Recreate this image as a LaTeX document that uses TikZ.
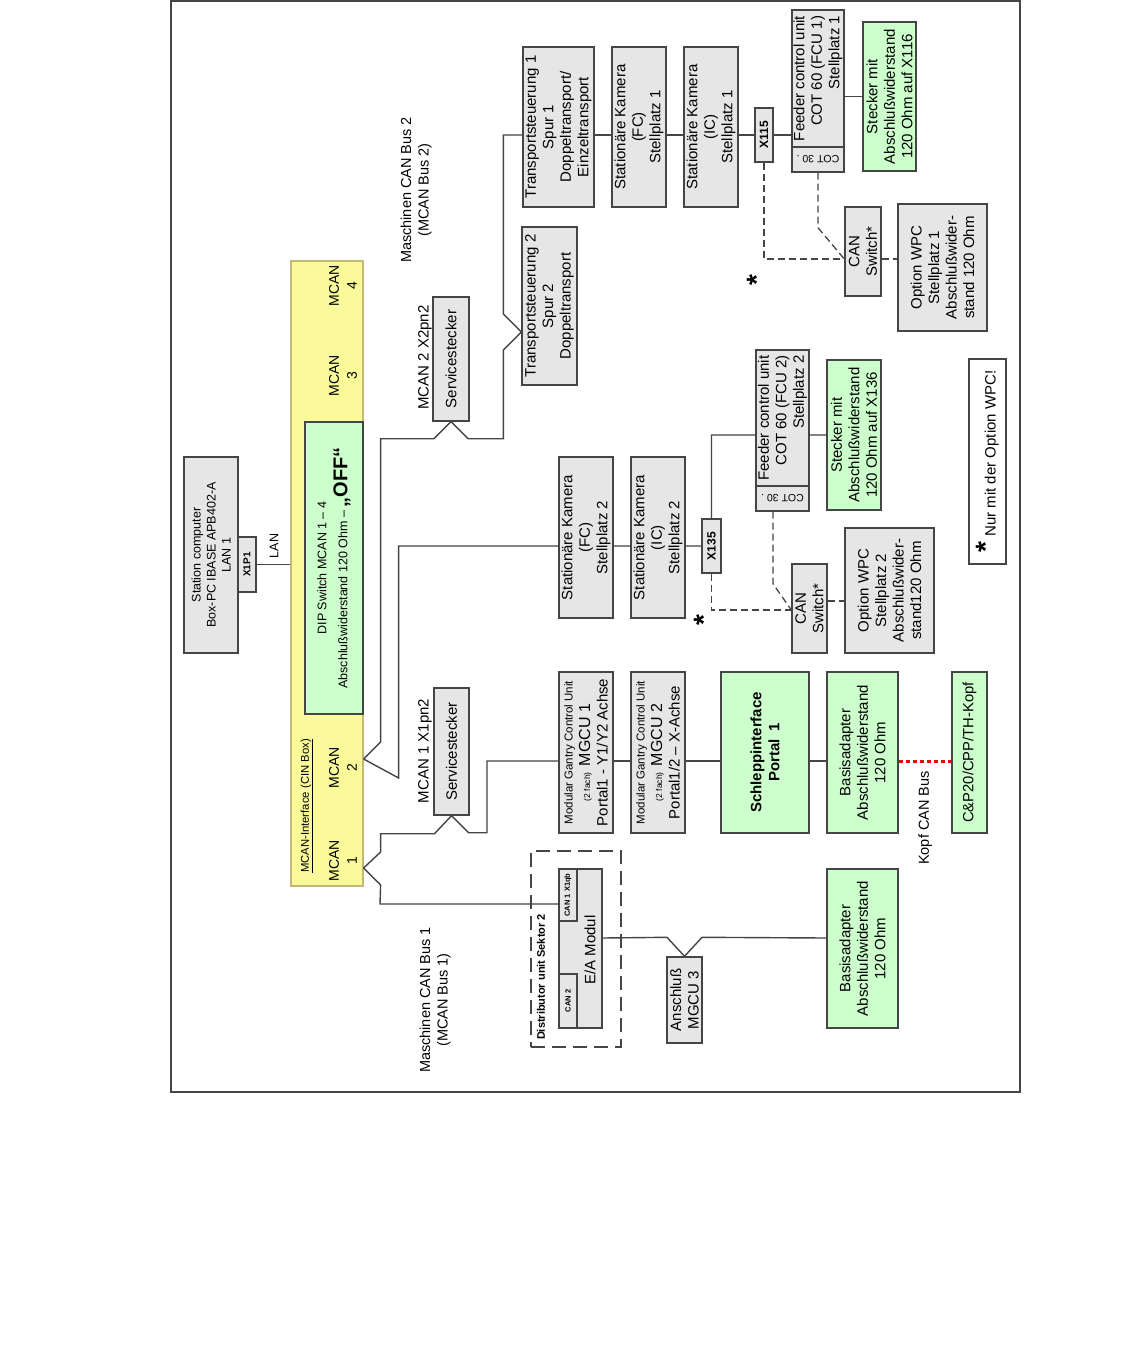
\documentclass[tikz,border=0pt]{standalone}
\usepackage{fontspec}
\setmainfont{Liberation Sans}
\usepackage{graphicx}
\usepackage{tikz}
\usetikzlibrary{calc}
\definecolor{boxgray}{HTML}{E6E6E6}
\definecolor{boxgreen}{HTML}{CCFFCC}
\definecolor{cinyellow}{HTML}{FAFA9B}
\definecolor{cinframe}{HTML}{C4B878}
\definecolor{linegray}{HTML}{454545}
\definecolor{kopfred}{HTML}{F00000}
\newcommand{\fs}[2]{\fontsize{#1}{#2}\selectfont}

\begin{document}
\begin{tikzpicture}[x=1pt,y=-1pt,
    blk/.style={draw=linegray,line width=1.4pt,fill=boxgray,rotate=90,
                align=center,inner sep=0pt,font=\fs{15}{17.5}},
    grn/.style={blk,fill=boxgreen},
    xtag/.style={blk,font=\fs{12}{12}\bfseries},
    cot/.style={draw=linegray,line width=1.4pt,fill=boxgray,inner sep=0pt,
                minimum width=52,minimum height=25,font=\fs{10.5}{10.5}},
    lbl/.style={rotate=90,align=center,inner sep=0pt,font=\fs{15}{17.5}},
    mcan/.style={lbl,font=\fs{14}{18}},
    ast/.style={rotate=90,inner sep=0pt,font=\fs{28}{28}\bfseries},
    bus/.style={linegray,line width=1.4pt},
    opt/.style={linegray,line width=1.3pt,dash pattern=on 7pt off 4pt},
    kopfbus/.style={kopfred,line width=3pt,dash pattern=on 4pt off 3pt}]
  \path[fill=white] (0,0) rectangle (1134,1350);
  \useasboundingbox (0,0) rectangle (1134,1350);
  \draw[linegray,line width=1.5pt] (170.75,0.75) rectangle (1020,1092);

  % station computer and CIN box
  \node[blk,minimum width=196,minimum height=54,font=\fs{12.5}{15}] (pc) at (211,555)
    {Station computer\\Box-PC IBASE APB402-A\\LAN 1};
  \node[xtag,minimum width=55,minimum height=18,font=\fs{10}{10}\bfseries] (x1p1) at (247,564.5) {X1P1};
  \node[blk,draw=cinframe,fill=cinyellow,line width=1.2pt,minimum width=625,minimum height=72] (cin) at (327,573.5) {};
  \node[grn,minimum width=292,minimum height=58,font=\fs{12.5}{21}] (dip) at (334,568)
    {DIP Switch MCAN 1 – 4\\Abschlußwiderstand 120 Ohm – {\fs{20}{21}\bfseries „OFF“}};
  \node[mcan] (m1lbl) at (343,861) {MCAN\\1};
  \node[mcan] (m2lbl) at (343,768) {MCAN\\2};
  \node[mcan] (m3lbl) at (343,376) {MCAN\\3};
  \node[mcan] (m4lbl) at (343,286) {MCAN\\4};
  \node[lbl,font=\fs{11.3}{12}] (cinlbl) at (307,806) {\underline{MCAN-Interface (CIN Box)}};
  \node[lbl,font=\fs{12.5}{12.5}] (lanlbl) at (274,546) {LAN};
  \node[lbl,font=\fs{14.5}{17.5}] (bus2lbl) at (416,190) {Maschinen CAN Bus 2\\(MCAN Bus 2)};
  \node[lbl,font=\fs{14.5}{17.5}] (bus1lbl) at (435,1000) {Maschinen CAN Bus 1\\(MCAN Bus 1)};

  \node[blk,minimum width=124,minimum height=36] (svc2) at (451,359) {Servicestecker};
  \node[lbl] (svc2lbl) at (425,357.5) {MCAN 2 X2pn2};
  \node[blk,minimum width=127,minimum height=35] (svc1) at (451.5,751.5) {Servicestecker};
  \node[lbl] (svc1lbl) at (425,751) {MCAN 1 X1pn2};

  % MCAN bus 2
  \node[blk,minimum width=158,minimum height=55] (ts2) at (549.5,306) {Transportsteuerung 2\\Spur 2\\Doppeltransport};
  \node[blk,minimum width=160,minimum height=71] (ts1) at (558.5,127) {Transportsteuerung 1\\Spur 1\\Doppeltransport/\\Einzeltransport};
  \node[blk,minimum width=160,minimum height=54] (fc1) at (639,127) {Stationäre Kamera\\(FC)\\Stellplatz 1};
  \node[blk,minimum width=160,minimum height=54] (ic1) at (711,127) {Stationäre Kamera\\(IC)\\Stellplatz 1};
  \node[xtag,minimum width=54,minimum height=18] (x115) at (764,135) {X115};
  \node[blk,minimum width=137,minimum height=52,align=right,inner xsep=3pt] (fcu1) at (818,78.5) {Feeder control unit\\COT 60 (FCU 1)\\Stellplatz 1};
  \node[cot] (cot1) at (818,159.5) {\rotatebox{180}{COT 30 .}};
  \node[grn,minimum width=149,minimum height=53] (stk1) at (889.5,96.5) {Stecker mit\\Abschlußwiderstand\\120 Ohm auf X116};
  \node[blk,minimum width=89,minimum height=36] (sw1) at (863,251.5) {CAN\\Switch*};
  \node[blk,minimum width=127,minimum height=89] (wpc1) at (942.5,267.5) {Option WPC\\Stellplatz 1\\Abschlußwider-\\stand 120 Ohm};
  \node[ast] (ast1) at (757,280) {*};

  \node[blk,minimum width=161,minimum height=54] (fc2) at (586,537.5) {Stationäre Kamera\\(FC)\\Stellplatz 2};
  \node[blk,minimum width=161,minimum height=54] (ic2) at (658,537.5) {Stationäre Kamera\\(IC)\\Stellplatz 2};
  \node[xtag,minimum width=54,minimum height=19] (x135) at (711.5,546) {X135};
  \node[blk,minimum width=136,minimum height=53,align=right,inner xsep=3pt] (fcu2) at (782.5,418) {Feeder control unit\\COT 60 (FCU 2)\\Stellplatz 2};
  \node[cot,minimum width=53] (cot2) at (782.5,498.5) {\rotatebox{180}{COT 30 .}};
  \node[grn,minimum width=150,minimum height=54] (stk2) at (854,435) {Stecker mit\\Abschlußwiderstand\\120 Ohm auf X136};
  \node[blk,minimum width=89,minimum height=35] (sw2) at (809.5,608.5) {CAN\\Switch*};
  \node[blk,minimum width=125,minimum height=89] (wpc2) at (889.5,590.5) {Option WPC\\Stellplatz 2\\Abschlußwider-\\stand120 Ohm};
  \node[ast] (ast2) at (704,620) {*};
  \node[blk,fill=white,minimum width=205,minimum height=37] (note) at (987.5,461.5)
    {{\fs{28}{28}\bfseries *}\hspace{5pt}Nur mit der Option WPC!};

  % MCAN bus 1
  \node[blk,minimum width=161,minimum height=54] (mgcu1) at (586,752.5)
    {{\fs{11.5}{13}Modular Gantry Control Unit}\\{\fs{8.5}{10}(2 fach)}\hspace{6pt}{\fs{16}{17.5}MGCU 1}\\Portal1 - Y1/Y2 Achse};
  \node[blk,minimum width=161,minimum height=54] (mgcu2) at (658,752.5)
    {{\fs{11.5}{13}Modular Gantry Control Unit}\\{\fs{8.5}{10}(2 fach)}\hspace{6pt}{\fs{16}{17.5}MGCU 2}\\Portal1/2 – X-Achse};
  \node[grn,minimum width=161,minimum height=88,font=\fs{15}{18}\bfseries] (schlepp) at (765,752.5) {Schleppinterface\\Portal\hspace{8pt}1};
  \node[grn,minimum width=161,minimum height=71] (basis1) at (862.5,752.5) {Basisadapter\\Abschlußwiderstand\\120 Ohm};
  \node[grn,minimum width=161,minimum height=35,font=\fs{14.8}{17}] (kopf) at (969.5,752.5) {C\&P20/CPP/TH-Kopf};
  \node[lbl,font=\fs{14.5}{17}] (kopflbl) at (925,818) {Kopf CAN Bus};

  \node[draw=linegray,line width=1.3pt,dash pattern=on 14pt off 7pt,minimum width=90,minimum height=196,inner sep=0pt] (dist) at (576,949) {};
  \node[lbl,font=\fs{11}{12}\bfseries] (distlbl) at (541,977) {Distributor unit Sektor 2};
  \node[blk,minimum width=159,minimum height=43] (eam) at (580.5,948.5) {};
  \node[lbl] (eamlbl) at (590,950) {E/A Modul};
  \node[blk,minimum width=52,minimum height=18,font=\fs{7.5}{8}\bfseries] (can1) at (568,895) {CAN 1 X1qb};
  \node[blk,minimum width=54,minimum height=18,font=\fs{7.5}{8}\bfseries] (can2) at (568,1001) {CAN 2};
  \node[blk,minimum width=86,minimum height=35] (ansch) at (684.5,1000) {Anschluß\\MGCU 3};
  \node[grn,minimum width=159,minimum height=71] (basis2) at (862.5,948.5) {Basisadapter\\Abschlußwiderstand\\120 Ohm};

  % connectors
  \draw[bus] (x1p1.south) -- (x1p1.south -| cin.north);

  \coordinate (m2) at ($(cin.south |- m2lbl)+(0,-9)$);
  \coordinate (t2) at ($(ts2.north)+(0,26)$);
  \coordinate (row1) at ($(t2)+(-18,-197)$);
  \draw[bus] (m2) -- ++(17,-17) |- ($(svc2.west)+(-17,17)$) -- (svc2.west) -- ++(17,17)
     -| ($(t2)+(-18,18)$) -- (t2) -- ++(-18,-18) -- (row1) -- (ts1.north |- row1);
  \draw[bus] (ts1.south |- row1) -- (fc1.north |- row1)
             (fc1.south |- row1) -- (ic1.north |- row1)
             (ic1.south |- row1) -- (x115.north)
             (x115.south) -- (x115.south -| fcu1.north)
             (fcu1.south |- stk1.north) -- (stk1.north);
  \draw[bus] (m2) -- ++(35,19) |- (fc2.north |- x135.north)
             (fc2.south |- x135.north) -- (ic2.north |- x135.north)
             (ic2.south |- x135.north) -- (x135.north)
             (x135.east) |- (fcu2.north |- stk2.north)
             (fcu2.south |- stk2.north) -- (stk2.north);

  \coordinate (sw1in) at ($(sw1.north)+(0,7.5)$);
  \draw[opt] (x115.west) |- (sw1in);
  \draw[opt] (cot1.south) -- ++(0,55) -- (sw1in);
  \draw[opt] (sw1.south |- sw1in) -- (wpc1.north |- sw1in);
  \coordinate (sw2in) at ($(sw2.north)+(0,1.5)$);
  \draw[opt] (x135.west) |- (sw2in);
  \draw[opt] ($(cot2.south)+(-9.5,0)$) -- ++(0,72) -- (sw2in);
  \draw[opt] ($(sw2.south)+(0,-7.5)$) -- ($(sw2.south -| wpc2.north)+(0,-7.5)$);

  \coordinate (m1) at ($(cin.south |- m1lbl)+(0,7)$);
  \coordinate (row3) at (487,761);
  \coordinate (row4) at (380,904);
  \draw[bus] (m1) -- ++(17,-16) |- ($(svc1.west)+(-17,18)$) -- (svc1.west) -- ++(17,17)
     -| (row3) -- (mgcu1.north |- row3);
  \draw[bus] (m1) -- ++(17,17) -- (row4) -- (can1.north |- row4);
  \draw[bus] (mgcu1.south |- row3) -- (mgcu2.north |- row3)
             (mgcu2.south |- row3) -- (schlepp.north |- row3)
             (schlepp.south |- row3) -- (basis1.north |- row3);
  \draw[kopfbus] (basis1.south |- row3) -- (kopf.north |- row3);
  \coordinate (row5) at (602,938);
  \draw[bus] (eam.south |- row5) -- ($(ansch.east)+(-17.5,-19)$) -- (ansch.east)
     -- ++(17.5,-19) -- (basis2.north |- row5);
\end{tikzpicture}
\end{document}
